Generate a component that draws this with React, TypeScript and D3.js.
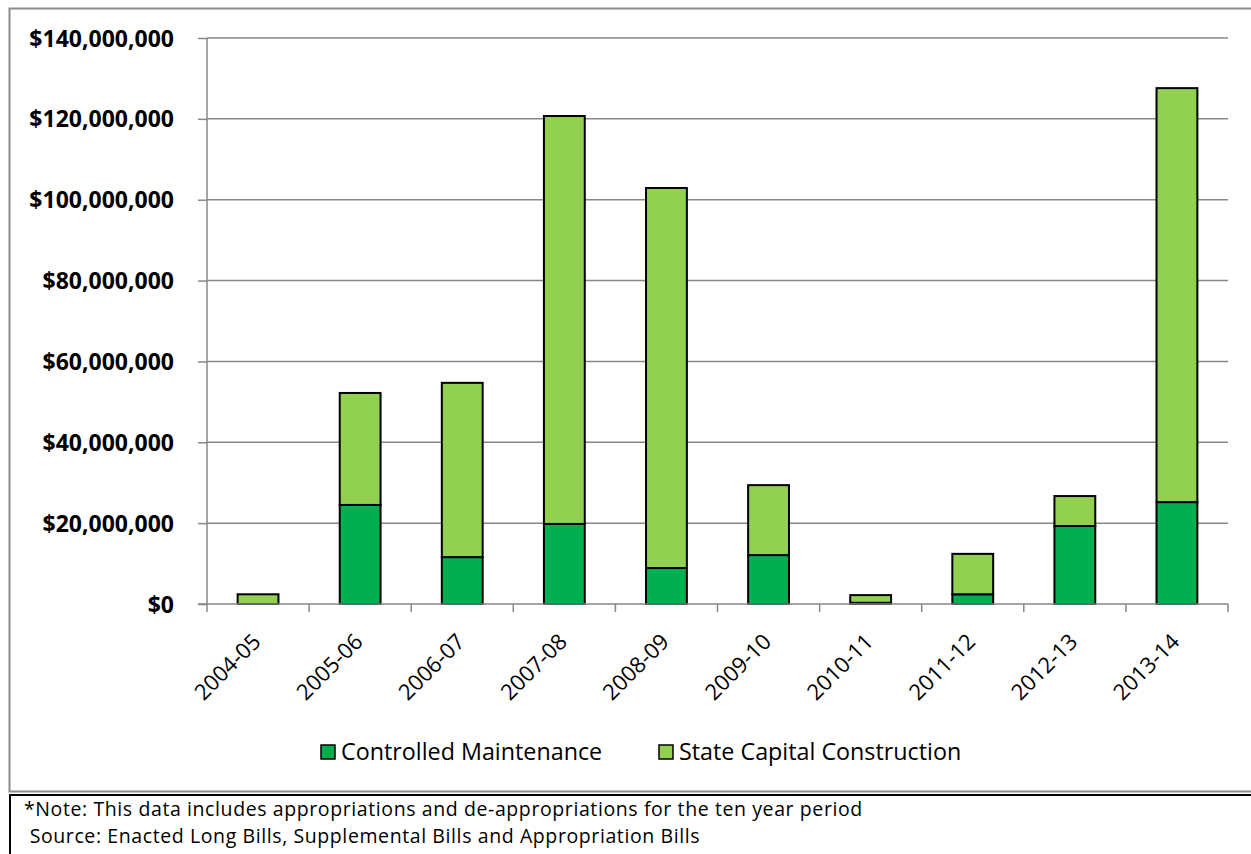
import React, { useEffect, useRef } from 'react'
import * as d3 from 'd3'

// fiscal years on the x axis
const years = ['2004-05', '2005-06', '2006-07', '2007-08', '2008-09', '2009-10', '2010-11', '2011-12', '2012-13', '2013-14']
// Controlled Maintenance, dollars
const maintenance = [0, 24500000, 11600000, 19800000, 8900000, 12100000, 300000, 2400000, 19300000, 25200000]
// State Capital Construction, dollars
const construction = [2400000, 27700000, 43100000, 100900000, 94000000, 17300000, 1900000, 10000000, 7400000, 102400000]
const seriesNames = ['Controlled Maintenance', 'State Capital Construction']
const seriesColors = ['#00B050', '#92D050']
const yTicks = [0, 20000000, 40000000, 60000000, 80000000, 100000000, 120000000, 140000000]
const noteLines = [
    '*Note: This data includes appropriations and de-appropriations for the ten year period',
    ' Source: Enacted Long Bills, Supplemental Bills and Appropriation Bills',
]

const App = () => {
    const ref = useRef<SVGSVGElement>(null)

    useEffect(() => {
        draw()
    })

    const draw = () => {
        const svg = d3.select(ref.current)
        svg.selectAll('*').remove()
        const font = '"Open Sans", "Noto Sans", sans-serif'

        // chart frame and the note box below it
        svg.append('rect').attr('x', 9.5).attr('y', 8.5).attr('width', 1260).attr('height', 783)
            .attr('fill', '#fff').attr('stroke', '#8c8c8c').attr('stroke-width', 2)
        svg.append('rect').attr('x', 10).attr('y', 795).attr('width', 1260).attr('height', 80)
            .attr('fill', '#fff').attr('stroke', '#000').attr('stroke-width', 2)

        const left = 207
        const right = 1228
        const top = 38
        const bottom = 604

        const x = d3.scaleBand().domain(years).range([left, right]).paddingInner(0.6).paddingOuter(0.3)
        const y = d3.scaleLinear().domain([0, 140000000]).range([bottom, top])
        const band = (right - left) / years.length

        // gridlines
        svg.append('g').selectAll('line').data(yTicks.slice(1)).enter().append('line')
            .attr('x1', left).attr('x2', right)
            .attr('y1', (d) => y(d)).attr('y2', (d) => y(d))
            .attr('stroke', '#878787').attr('stroke-width', 1.5)

        // y axis
        const yAxis = svg.append('g').attr('transform', `translate(${left},0)`)
            .call(d3.axisLeft(y).tickValues(yTicks).tickSize(9).tickPadding(24)
                .tickFormat((d) => '$' + d3.format(',')(d as number)))
        yAxis.selectAll('line, path').attr('stroke', '#878787').attr('stroke-width', 1.5)
        yAxis.select('.domain').attr('d', `M0,${top}V${bottom}`)
        yAxis.selectAll('text').attr('font-family', font).attr('font-weight', 'bold')
            .attr('font-size', 23).attr('fill', '#000').attr('dy', '0.35em')

        // stacked bars
        const rows = years.map((yr, i) => ({ year: yr, m: maintenance[i], c: construction[i] }))
        const stack = d3.stack<{ year: string; m: number; c: number }>().keys(['m', 'c'])(rows)
        stack.forEach((layer, li) => {
            svg.append('g').selectAll('rect').data(layer).enter().append('rect')
                .attr('x', (d) => x(d.data.year) || 0)
                .attr('width', x.bandwidth())
                .attr('y', (d) => y(d[1]))
                .attr('height', (d) => y(d[0]) - y(d[1]))
                .attr('fill', seriesColors[li])
                .attr('stroke', '#000').attr('stroke-width', 2)
        })

        // x axis
        const xAxisG = svg.append('g').attr('transform', `translate(0,${bottom})`)
        xAxisG.append('line').attr('x1', left - 9).attr('x2', right).attr('y1', 0).attr('y2', 0)
            .attr('stroke', '#878787').attr('stroke-width', 1.5)
        xAxisG.selectAll('.tk').data(d3.range(years.length + 1)).enter().append('line')
            .attr('x1', (i) => left + i * band).attr('x2', (i) => left + i * band)
            .attr('y1', 0).attr('y2', 8)
            .attr('stroke', '#878787').attr('stroke-width', 1.5)
        xAxisG.selectAll('text').data(years).enter().append('text')
            .attr('transform', (d) => `translate(${(x(d) || 0) + x.bandwidth() / 2 + 4},39) rotate(-45)`)
            .attr('text-anchor', 'end')
            .attr('font-family', font).attr('font-size', 22).attr('fill', '#000')
            .text((d) => d)

        // legend
        const legendX = [321, 659]
        seriesNames.forEach((name, i) => {
            svg.append('rect').attr('x', legendX[i]).attr('y', 745).attr('width', 14).attr('height', 14)
                .attr('fill', seriesColors[i]).attr('stroke', '#000').attr('stroke-width', 1.5)
            svg.append('text').attr('x', legendX[i] + 20).attr('y', 760)
                .attr('font-family', font).attr('font-size', 23.3).attr('fill', '#000').text(name)
        })

        // note
        noteLines.forEach((t, i) => {
            svg.append('text').attr('x', 24).attr('y', 816 + i * 27).attr('xml:space', 'preserve')
                .style('white-space', 'pre').attr('letter-spacing', 0.6)
                .attr('font-family', font).attr('font-size', 19.5).attr('fill', '#000').text(t)
        })
    }

    return (
        <svg ref={ref} width={1251} height={854}
            style={{ position: 'absolute', left: 0, top: 0, background: '#fff' }} />
    )
}

export default App
